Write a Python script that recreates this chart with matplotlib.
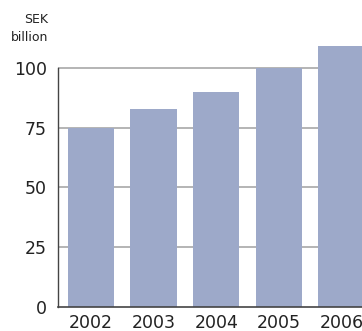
import matplotlib
matplotlib.use("Agg")
import matplotlib.pyplot as plt

years = ["2002", "2003", "2004", "2005", "2006"]
values = [75, 83, 90, 100, 109]
yticks = [0, 25, 50, 75, 100]

plt.rcParams['font.family'] = ['DejaVu Sans']

fig = plt.figure(figsize=(3.62, 3.31), dpi=100)
ax = fig.add_axes([58/362, 24/331, 314.7/362, 267.7/331])
x = list(range(len(years)))
ax.set_xlim(-0.527, 4.5)
ax.set_ylim(0, 112)
for t in yticks[1:]:
    ax.axhline(t, color='#a8a8a8', lw=1.2, zorder=1)
ax.bar(x, values, width=0.74, color='#9da9c9', zorder=2)
ax.set_yticks(yticks)
ax.set_yticklabels([str(t) for t in yticks], fontsize=12.5, color='#222222')
ax.set_xticks(x)
ax.set_xticklabels(years, fontsize=12.5, color='#222222')
ax.tick_params(length=0)
ax.tick_params(axis='y', pad=8)
ax.tick_params(axis='x', pad=5)
for s in ['top', 'right']:
    ax.spines[s].set_visible(False)
ax.spines['left'].set_bounds(0, 100)
ax.spines['left'].set_color('#444444')
ax.spines['bottom'].set_color('#444444')
ax.spines['left'].set_linewidth(1.0)
ax.spines['bottom'].set_linewidth(1.2)
fig.text(48/362, 1 - 13/331, "SEK\nbillion", ha='right', va='top', fontsize=9, color='#222222', linespacing=1.5)
fig.savefig("out.png", dpi=100)
